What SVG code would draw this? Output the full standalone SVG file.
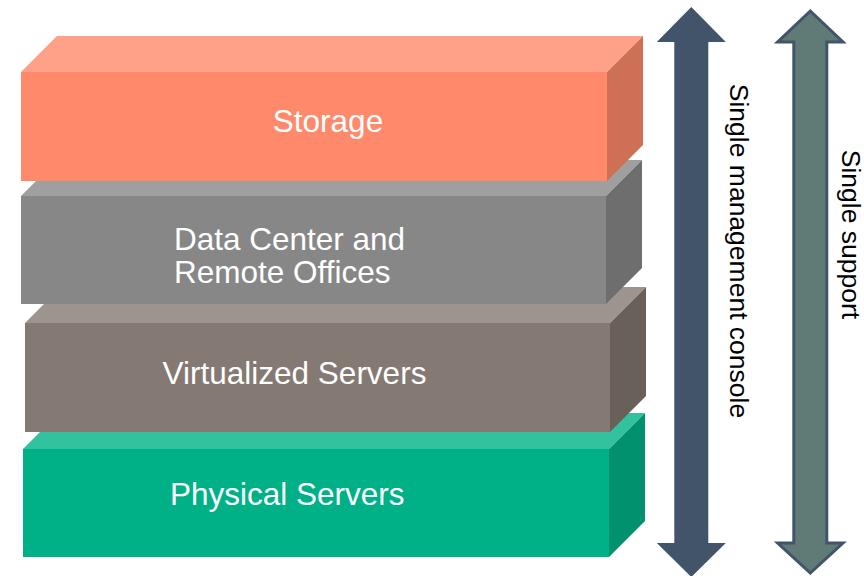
<svg xmlns="http://www.w3.org/2000/svg" width="864" height="576" viewBox="0 0 864 576">
<style>
.lbl{font-family:"Liberation Sans",Arial,sans-serif;font-size:31.5px;fill:#ffffff}
.side{font-family:"Liberation Sans",Arial,sans-serif;font-size:26.5px;fill:#000000}
</style>
<rect width="864" height="576" fill="#ffffff"/>
<g id="physical">
<polygon points="23,449 59,413 645,413 609,449" fill="#33C29E"/>
<polygon points="609,449 645,413 645,521 609,557" fill="#01916E"/>
<rect x="23" y="449" width="586" height="108" fill="#00B188"/>
<text class="lbl" x="287.3" y="504.5" text-anchor="middle">Physical Servers</text>
</g>
<g id="virtualized">
<polygon points="25,323 61,287 646,287 610,323" fill="#9D9490"/>
<polygon points="610,323 646,287 646,396 610,432" fill="#6A605A"/>
<rect x="25" y="323" width="585" height="109" fill="#847973"/>
<text class="lbl" x="294.5" y="384" text-anchor="middle">Virtualized Servers</text>
</g>
<g id="datacenter">
<polygon points="21,196 57,160 642,160 606,196" fill="#9F9F9F"/>
<polygon points="606,196 642,160 642,268 606,304" fill="#6E6E6E"/>
<rect x="21" y="196" width="585" height="108" fill="#878787"/>
<text class="lbl" x="174" y="250">Data Center and</text>
<text class="lbl" x="174" y="283.3">Remote Offices</text>
</g>
<g id="storage">
<polygon points="21,72 57,36 643,36 607,72" fill="#FFA088"/>
<polygon points="607,72 643,36 643,145 607,181" fill="#CE7055"/>
<rect x="21" y="72" width="586" height="109" fill="#FF8A6B"/>
<text class="lbl" x="328" y="131.7" text-anchor="middle">Storage</text>
</g>
<g id="connectors">
<polygon id="mgmt-arrow" points="691.3,7 725.8,42 708.3,42 708.3,543 725.8,543 691.3,577 656.8,543 674.3,543 674.3,42 656.8,42" fill="#42546A"/>
<polygon id="support-arrow" points="810.3,11 843,42 826.8,42 826.8,543 843,543 810.3,573 777.6,543 793.8,543 793.8,42 777.6,42" fill="#607B75" stroke="#42546A" stroke-width="3"/>
</g>
<g id="label-mgmt">
<text class="side" transform="translate(730,251) rotate(90)" text-anchor="middle">Single management console</text>
</g>
<g id="label-support">
<text class="side" transform="translate(841.5,234.5) rotate(90)" text-anchor="middle">Single support</text>
</g>
</svg>
